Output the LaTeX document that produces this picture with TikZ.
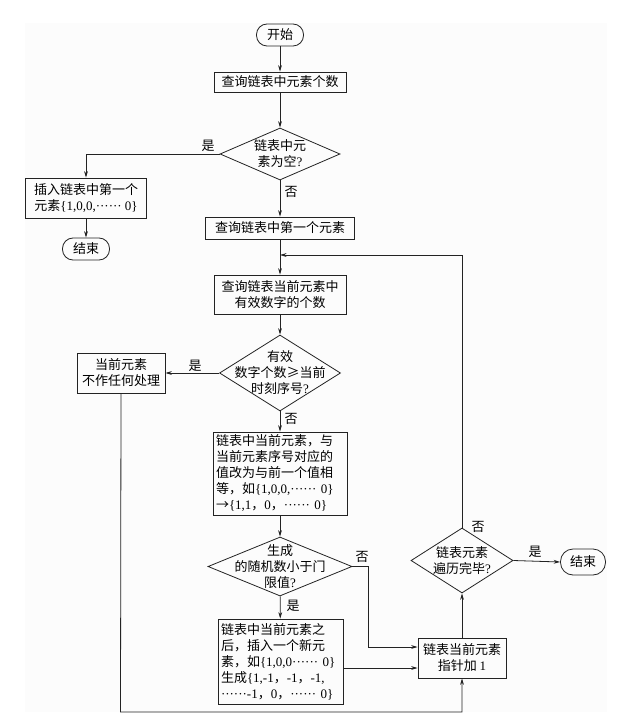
\documentclass[tikz,border=0pt]{standalone}
\usepackage{fontspec}
\setmainfont{Noto Sans CJK SC}
\newfontfamily\lfont{Liberation Serif}
\newcommand\latn[1]{{\lfont #1}}
\newcommand\dts{\latn{······}}
\usetikzlibrary{shapes.geometric,arrows.meta}
\definecolor{ln}{RGB}{35,35,35}
\definecolor{bgc}{RGB}{252,252,252}
\begin{document}
\begin{tikzpicture}[x=1pt,y=-1pt,
  font=\fontsize{13}{16}\selectfont,
  line width=0.8pt,
  box/.style={draw=ln, rectangle, inner sep=2pt, align=center},
  lbox/.style={draw=ln, rectangle, inner sep=3pt, align=left},
  term/.style={draw=ln, rectangle, inner sep=1pt, minimum width=47pt, minimum height=22pt, rounded corners=10.5pt},
  dia/.style={draw=ln, diamond, inner sep=0pt},
  arr/.style={draw=ln, -{Stealth[length=6.5pt,width=3.8pt]}},
  lab/.style={inner sep=1pt}]
\useasboundingbox (0,0) rectangle (633,719);
\fill[bgc] (25,23) rectangle (607,712);

% main column
\node[term] (start) at (280,35) {开始};
\node[box, minimum width=132pt, minimum height=20pt] (b1) at (280,82) {查询链表中元素个数};
\node[dia, minimum width=120pt, minimum height=52pt,
  label={[align=center,inner sep=0pt]center:{链表中元\\素为空\latn{?}}}] (d1) at (280,154) {};
\node[box, minimum width=121pt, minimum height=40pt] (ins) at (86,198)
  {插入链表中第一个\\元素\latn{\{1,0,0,}\dts\latn{ 0\}}};
\node[term] (end1) at (86,249) {结束};
\node[box, minimum width=149pt, minimum height=22pt] (b2) at (280,228) {查询链表中第一个元素};
\node[box, minimum width=132pt, minimum height=39pt] (b3) at (280,294.5) {查询链表当前元素中\\有效数字的个数};
\node[dia, minimum width=121pt, minimum height=76pt,
  label={[align=center,inner sep=0pt]center:{有效\\数字个数≥当前\\时刻序号\latn{?}}}] (d2) at (280,373) {};
\node[box, minimum width=88pt, minimum height=40pt] (cur) at (121,373) {当前元素\\不作任何处理};
\node[lbox, text width=128pt, minimum height=83pt] (big) at (280,473.5)
  {链表中当前元素，与\\当前元素序号对应的\\值改为与前一个值相\\等，如\latn{\{1,0,0,}\dts\latn{ 0\}}\\→\latn{\{1,1}，\latn{0}，\dts\latn{ 0\}}};
\node[dia, minimum width=144pt, minimum height=59pt,
  label={[align=center,inner sep=0pt]center:{生成\\的随机数小于门\\限值\latn{?}}}] (d3) at (280,566.5) {};
\node[lbox, text width=119pt, minimum height=85pt] (ins2) at (280.5,661.5)
  {链表中当前元素之\\后，插入一个新元\\素，如\latn{\{1,0,0}\dts\latn{ 0\}}\\生成\latn{\{1,-1}，\latn{-1}，\latn{-1,}\\\dts\latn{-1}，\latn{0}，\dts\latn{ 0\}}};
\node[box, minimum width=88pt, minimum height=40pt] (ptr) at (462,658) {链表当前元素\\指针加 \latn{1}};
\node[dia, minimum width=102pt, minimum height=65pt,
  label={[align=center,inner sep=0pt]center:{链表元素\\遍历完毕\latn{?}}}] (d4) at (462,560.5) {};
\node[term, minimum width=45pt, minimum height=26pt, rounded corners=12.5pt] (end2) at (583,562) {结束};

% labels
\node[lab] (l1) at (208,146) {是};
\node[lab] (l2) at (291,192) {否};
\node[lab] (l3) at (195,366) {是};
\node[lab] (l4) at (291,419) {否};
\node[lab] (l5) at (362,557) {否};
\node[lab] (l6) at (293,606) {是};
\node[lab] (l7) at (478,527) {否};
\node[lab] (l8) at (535,552) {是};

% junction coordinates
\coordinate (m) at (280,255);
\coordinate (j1) at (368,647);
\coordinate (j2) at (120.5,712);

% connectors
\draw[arr] (start) -- (b1);
\draw[arr] (b1) -- (d1);
\draw[arr] (d1.west) -| (ins.north);
\draw[arr] (ins) -- (end1);
\draw[arr] (d1) -- (b2);
\draw[arr] (b2) -- (b3);
\draw[arr] (b3) -- (d2);
\draw[arr] (d2.west) -- (cur.east);
\draw[arr] (d2) -- (big);
\draw[arr] (big) -- (d3);
\draw[arr] (d3.east) -| (j1) -- (j1 -| ptr.west);
\draw[arr] (d3) -- (ins2);
\draw[arr] (ins2.east |- 0,668) -- (ptr.west |- 0,668);
\draw[arr] (cur.south) -- (j2) -| (ptr.south);
\draw[arr] (ptr) -- (d4);
\draw[arr] (d4.north) |- (m);
\draw[arr] (d4.east) -- (end2.west);
\end{tikzpicture}
\end{document}
